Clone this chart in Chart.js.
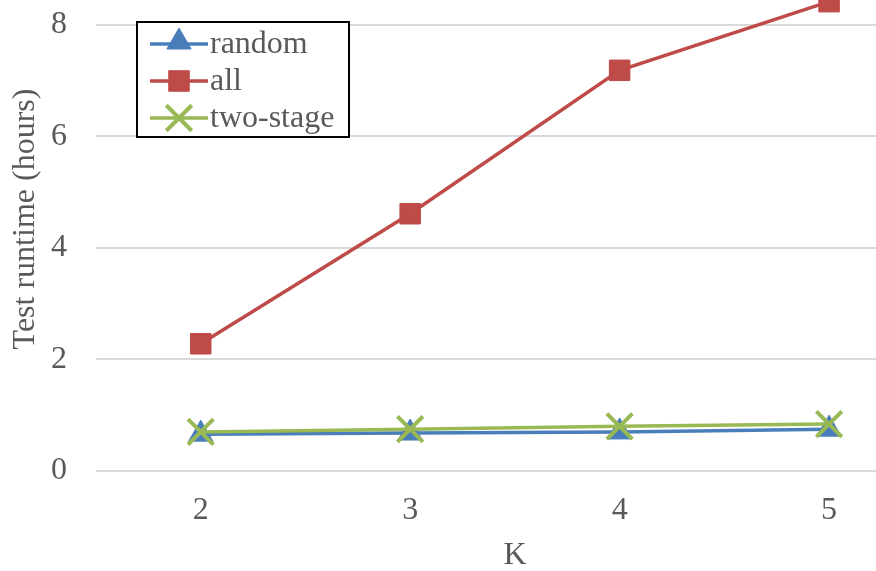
<!DOCTYPE html>
<html>
<head>
<meta charset="utf-8">
<script src="https://cdn.jsdelivr.net/npm/chart.js@4/dist/chart.umd.min.js"></script>
<style>
  html, body { margin: 0; padding: 0; background: #fff; overflow: hidden; }
  #wrap { width: 876px; height: 571px; position: relative; }
</style>
</head>
<body>
<div id="wrap"><canvas id="RuntimeGraph"></canvas></div>
<script>
// values
var kValues = [2, 3, 4, 5];
var randomHours = [0.66, 0.68, 0.70, 0.75];
var allHours = [2.28, 4.61, 7.18, 8.41];
var twoStageHours = [0.70, 0.75, 0.80, 0.84];
var yTicks = [0, 2, 4, 6, 8];

var textColor = '#595959';
var serif = "'Liberation Serif', 'Times New Roman', serif";

function points(values) {
    return kValues.map(function (k, i) {
        return { x: k, y: values[i] };
    });
}

// box legend like the Excel one, drawn inside the plot
var boxLegend = {
    id: 'boxLegend',
    afterDraw: function (chart) {
        var ctx = chart.ctx;
        var rows = [0, 1, 2];
        ctx.save();
        ctx.fillStyle = '#fff';
        ctx.fillRect(137, 22, 212, 115);
        ctx.strokeStyle = '#000';
        ctx.lineWidth = 2;
        ctx.strokeRect(137, 22, 212, 115);
        rows.forEach(function (i) {
            var ds = chart.data.datasets[i];
            var y = 44 + i * 37;
            ctx.strokeStyle = ds.borderColor;
            ctx.lineWidth = ds.borderWidth;
            ctx.beginPath();
            ctx.moveTo(150, y);
            ctx.lineTo(208, y);
            ctx.stroke();
            ctx.fillStyle = ds.borderColor;
            ctx.lineWidth = ds.pointBorderWidth;
            Chart.helpers.drawPoint(ctx, {
                pointStyle: ds.pointStyle,
                radius: ds.pointRadius,
                rotation: 0,
                borderWidth: ds.pointBorderWidth
            }, 179, ds.pointStyle === 'triangle' ? y - 2 : y);
            ctx.fillStyle = textColor;
            ctx.font = '32px ' + serif;
            ctx.textBaseline = 'middle';
            ctx.textAlign = 'left';
            ctx.fillText(ds.label, 210, y + 1);
        });
        ctx.restore();
    }
};

// axis titles (the original plot area runs past the cropped edges)
var axisTitles = {
    id: 'axisTitles',
    afterDraw: function (chart) {
        var ctx = chart.ctx;
        ctx.save();
        ctx.fillStyle = textColor;
        ctx.font = '32px ' + serif;
        ctx.textAlign = 'center';
        ctx.textBaseline = 'middle';
        ctx.fillText('K', 515, 556);
        ctx.translate(26, 219);
        ctx.rotate(-Math.PI / 2);
        ctx.fillText('Test runtime (hours)', 0, 0);
        ctx.restore();
    }
};

function setupRuntimeGraph() {
    var context = document.getElementById('RuntimeGraph').getContext('2d');
    var runtimeChart = new Chart(context, {
        type: 'line',
        data: {
            datasets: [{
                label: 'random',
                data: points(randomHours),
                borderColor: '#4A7EBB',
                backgroundColor: '#4A7EBB',
                borderWidth: 3.5,
                pointStyle: 'triangle',
                pointRadius: 14,
                pointBorderWidth: 1,
                order: 2
            },
            {
                label: 'all',
                data: points(allHours),
                borderColor: '#BE4B48',
                backgroundColor: '#BE4B48',
                borderWidth: 3.5,
                pointStyle: 'rect',
                pointRadius: 14.5,
                pointBorderWidth: 1,
                order: 1
            },
            {
                label: 'two-stage',
                data: points(twoStageHours),
                borderColor: '#98B954',
                backgroundColor: '#98B954',
                borderWidth: 3.5,
                pointStyle: 'crossRot',
                pointRadius: 18,
                pointBorderWidth: 4,
                order: 0
            }]
        },
        options: {
            responsive: true,
            maintainAspectRatio: false,
            animation: false,
            clip: false,
            layout: { padding: 0, autoPadding: false },
            plugins: {
                legend: { display: false },
                tooltip: { enabled: false }
            },
            scales: {
                x: {
                    type: 'linear',
                    min: 1.5,
                    max: 5.224,
                    afterFit: function (scale) {
                        scale.height = 100;
                        scale.paddingLeft = 0;
                        scale.paddingRight = 0;
                    },
                    afterBuildTicks: function (scale) {
                        scale.ticks = kValues.map(function (k) { return { value: k }; });
                    },
                    grid: { display: false, drawTicks: false },
                    border: { display: false },
                    ticks: {
                        color: textColor,
                        font: { family: serif, size: 32 },
                        padding: 20
                    }
                },
                y: {
                    min: 0,
                    max: 8.44,
                    afterFit: function (scale) {
                        scale.width = 96;
                        scale.paddingTop = 0;
                        scale.paddingBottom = 0;
                    },
                    afterBuildTicks: function (scale) {
                        scale.ticks = yTicks.map(function (v) { return { value: v }; });
                    },
                    grid: { color: '#D9D9D9', lineWidth: 2, drawTicks: false },
                    border: { display: false },
                    ticks: {
                        color: textColor,
                        font: { family: serif, size: 32 },
                        padding: 29
                    }
                }
            }
        },
        plugins: [boxLegend, axisTitles]
    });
}

setupRuntimeGraph();
</script>
</body>
</html>
